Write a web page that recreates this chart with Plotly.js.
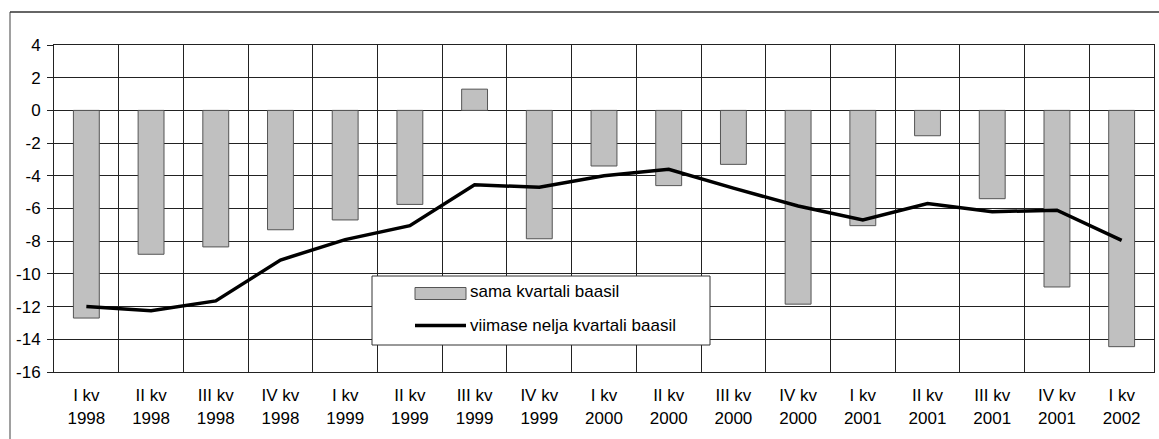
<!DOCTYPE html>
<html>
<head>
<meta charset="utf-8">
<script src="https://cdn.plot.ly/plotly-3.0.1.min.js"></script>
<style>
  html, body { margin: 0; padding: 0; background: #fff; }
  #chart { width: 1159px; height: 439px; }
</style>
</head>
<body>
<div id="chart"></div>
<script>
// ---- data ----
var quarters = ["I kv","II kv","III kv","IV kv","I kv","II kv","III kv","IV kv","I kv","II kv","III kv","IV kv","I kv","II kv","III kv","IV kv","I kv"];
var years = ["1998","1998","1998","1998","1999","1999","1999","1999","2000","2000","2000","2000","2001","2001","2001","2001","2002"];
var samaKvartali = [-12.7, -8.8, -8.35, -7.3, -6.7, -5.75, 1.3, -7.85, -3.4, -4.6, -3.3, -11.85, -7.05, -1.55, -5.4, -10.8, -14.45];
var viimaseNelja = [-12.0, -12.25, -11.65, -9.15, -7.9, -7.05, -4.55, -4.7, -4.0, -3.6, -4.75, -5.85, -6.7, -5.7, -6.2, -6.1, -7.95];
var seriesNames = ["sama kvartali baasil", "viimase nelja kvartali baasil"];
var yTicks = [4, 2, 0, -2, -4, -6, -8, -10, -12, -14, -16];

var categories = quarters.map(function (q, i) { return q + "<br>" + years[i]; });

// ---- geometry helpers (layout only) ----
var W = 1159, H = 439;
var M = { l: 54, r: 5, t: 45, b: 67 };
var pw = W - M.l - M.r, ph = H - M.t - M.b;
function px(x) { return (x - M.l) / pw; }
function py(y) { return (H - M.b - y) / ph; }

var FONT = "Arial, 'Liberation Sans', sans-serif";
var FS = 17;

var traces = [
  {
    type: "bar",
    name: seriesNames[0],
    x: categories,
    y: samaKvartali,
    width: 0.4,
    marker: { color: "#c0c0c0", line: { color: "#555555", width: 1 } },
    showlegend: false,
    hoverinfo: "x+y"
  },
  {
    type: "scatter",
    mode: "lines",
    name: seriesNames[1],
    x: categories,
    y: viimaseNelja,
    line: { color: "#000000", width: 3.5 },
    showlegend: false,
    hoverinfo: "x+y"
  }
];

var shapes = [
  // outer frame (left + top)
  { type: "line", xref: "paper", yref: "paper", x0: px(10), x1: px(10), y0: py(12), y1: py(445), line: { color: "#808080", width: 1.5 } },
  { type: "line", xref: "paper", yref: "paper", x0: px(10), x1: px(1165), y0: py(12), y1: py(12), line: { color: "#333333", width: 1.5 } },
  // legend box
  { type: "rect", xref: "paper", yref: "paper", layer: "above", x0: px(372), x1: px(710), y0: py(276), y1: py(345), fillcolor: "#ffffff", line: { color: "#333333", width: 1 } },
  // legend swatch: bar
  { type: "rect", xref: "paper", yref: "paper", layer: "above", x0: px(415), x1: px(466), y0: py(287.5), y1: py(299.5), fillcolor: "#c0c0c0", line: { color: "#555555", width: 1 } },
  // legend swatch: line
  { type: "line", xref: "paper", yref: "paper", layer: "above", x0: px(415), x1: px(466), y0: py(325.5), y1: py(325.5), line: { color: "#000000", width: 3.5 } }
];

var annotations = [
  { xref: "paper", yref: "paper", x: px(468), y: py(291), xanchor: "left", yanchor: "middle", text: seriesNames[0], showarrow: false, font: { family: FONT, size: FS, color: "#000" } },
  { xref: "paper", yref: "paper", x: px(468), y: py(325), xanchor: "left", yanchor: "middle", text: seriesNames[1], showarrow: false, font: { family: FONT, size: FS, color: "#000" } }
];

var layout = {
  width: W, height: H,
  margin: M,
  paper_bgcolor: "#ffffff",
  plot_bgcolor: "#ffffff",
  font: { family: FONT, size: FS, color: "#000000" },
  showlegend: false,
  bargap: 0.6,
  xaxis: {
    type: "category",
    tickson: "boundaries",
    showgrid: true,
    gridcolor: "#222222",
    gridwidth: 1,
    ticks: "",
    showline: true,
    linecolor: "#222222",
    linewidth: 1,
    mirror: true,
    zeroline: false,
    tickfont: { family: FONT, size: FS, color: "#000" },
    ticklabelstandoff: 8,
    fixedrange: true
  },
  yaxis: {
    range: [-16, 4],
    tickvals: yTicks,
    ticktext: yTicks.map(String),
    showgrid: true,
    gridcolor: "#222222",
    gridwidth: 1,
    zeroline: false,
    ticks: "outside",
    ticklen: 6,
    tickcolor: "#222222",
    showline: true,
    linecolor: "#222222",
    linewidth: 1,
    mirror: true,
    tickfont: { family: FONT, size: FS, color: "#000" },
    ticklabelstandoff: 3,
    fixedrange: true
  },
  shapes: shapes,
  annotations: annotations
};

Plotly.newPlot("chart", traces, layout, { displayModeBar: false, staticPlot: true });
</script>
</body>
</html>
